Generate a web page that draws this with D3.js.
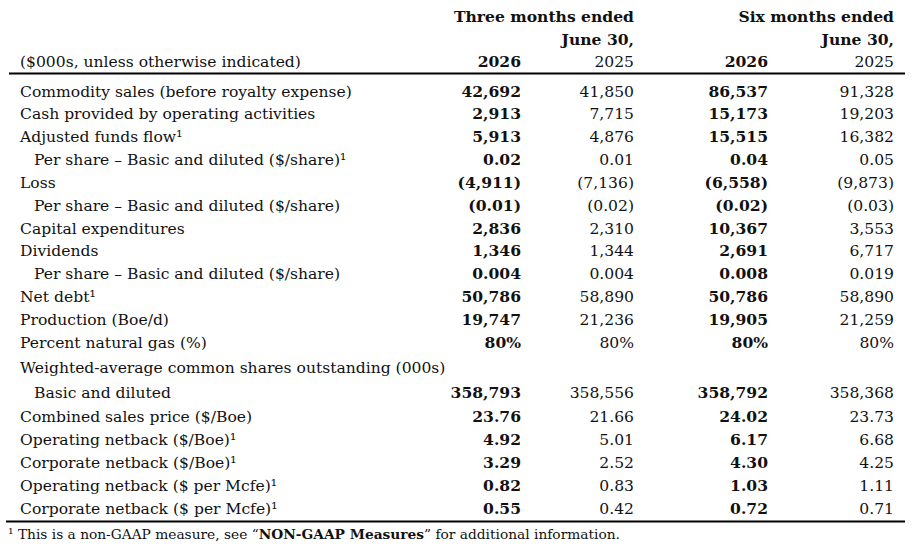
<!DOCTYPE html>
<html>
<head>
<meta charset="utf-8">
<script src="https://cdn.jsdelivr.net/npm/d3@7"></script>
<style>
  html, body { margin: 0; padding: 0; background: #fff; }
  svg { display: block; }
  text { font-family: "DejaVu Serif", serif; fill: #111; }
</style>
</head>
<body>
<svg id="chart" width="912" height="547"></svg>
<script>
// ---------------- DATA ----------------
const unitsLabel = "($000s, unless otherwise indicated)";
const periodHeaders = ["Three months ended", "Six months ended"];
const periodSub = ["June 30,", "June 30,"];
const yearHeaders = ["2026", "2025", "2026", "2025"];

const rowLabels = [
  "Commodity sales (before royalty expense)",
  "Cash provided by operating activities",
  "Adjusted funds flow",
  "Per share \u2013 Basic and diluted ($/share)",
  "Loss",
  "Per share \u2013 Basic and diluted ($/share)",
  "Capital expenditures",
  "Dividends",
  "Per share \u2013 Basic and diluted ($/share)",
  "Net debt",
  "Production (Boe/d)",
  "Percent natural gas (%)",
  "Weighted-average common shares outstanding (000s)",
  "Basic and diluted",
  "Combined sales price ($/Boe)",
  "Operating netback ($/Boe)",
  "Corporate netback ($/Boe)",
  "Operating netback ($ per Mcfe)",
  "Corporate netback ($ per Mcfe)"
];
const rowIndent = [0,0,0,1,0,1,0,0,1,0,0,0,0,1,0,0,0,0,0];
const rowNote   = [0,0,1,1,0,0,0,0,0,1,0,0,0,0,0,1,1,1,1];
const rowFormat = ["int","int","int","d2","int","d2","int","int","d3","int","int","pct",null,"int","d2","d2","d2","d2","d2"];

const threeMonths2026 = [42692, 2913, 5913, 0.02, -4911, -0.01, 2836, 1346, 0.004, 50786, 19747, 80, null, 358793, 23.76, 4.92, 3.29, 0.82, 0.55];
const threeMonths2025 = [41850, 7715, 4876, 0.01, -7136, -0.02, 2310, 1344, 0.004, 58890, 21236, 80, null, 358556, 21.66, 5.01, 2.52, 0.83, 0.42];
const sixMonths2026   = [86537, 15173, 15515, 0.04, -6558, -0.02, 10367, 2691, 0.008, 50786, 19905, 80, null, 358792, 24.02, 6.17, 4.30, 1.03, 0.72];
const sixMonths2025   = [91328, 19203, 16382, 0.05, -9873, -0.03, 3553, 6717, 0.019, 58890, 21259, 80, null, 358368, 23.73, 6.68, 4.25, 1.11, 0.71];

const footnoteParts = [
  {t: "\u00B9 This is a non-GAAP measure, see \u201C", b: false},
  {t: "NON-GAAP Measures", b: true},
  {t: "\u201D for additional information.", b: false}
];

// ---------------- LAYOUT ----------------
const svg = d3.select("#chart");

const columns = [
  {key: "q26", values: threeMonths2026, bold: true},
  {key: "q25", values: threeMonths2025, bold: false},
  {key: "s26", values: sixMonths2026, bold: true},
  {key: "s25", values: sixMonths2025, bold: false}
];
const xCol = d3.scaleOrdinal().domain(columns.map(c => c.key)).range([521, 634, 768, 894]);
const xLabel = 20, indentW = 14;

function measure(str, size, weight) {
  const t = svg.append("text").attr("font-size", size).attr("font-weight", weight || "normal").text(str);
  const w = t.node().getComputedTextLength();
  t.remove();
  return w;
}
const bodySize = 16 * 332 / measure(rowLabels[0], 16);

// row baselines, slight extra spacing around share-count block
const slot = rowLabels.map((_, i) => i + (i >= 12 ? 0.12 : 0) + (i >= 13 ? 0.1 : 0) + (i >= 14 ? 0.04 : 0));
const y = d3.scaleLinear().domain([0, slot[slot.length - 1]]).range([96.5, 513.5]);

const fmtInt = d3.format(",.0f"), fmt2 = d3.format(".2f"), fmt3 = d3.format(".3f");
function fmtVal(v, f) {
  if (v == null) return "";
  let s;
  const a = Math.abs(v);
  if (f === "int") s = fmtInt(a);
  else if (f === "d2") s = fmt2(a);
  else if (f === "d3") s = fmt3(a);
  else if (f === "pct") s = fmtInt(a) + "%";
  return v < 0 ? "(" + s + ")" : s;
}

// headers
const hdr = svg.append("g").attr("font-size", bodySize);
const periodRight = [xCol("q25"), xCol("s25")];
hdr.selectAll("text.ph").data(periodHeaders).join("text")
  .attr("class", "ph").attr("x", (d, i) => periodRight[i]).attr("y", 21.5)
  .attr("text-anchor", "end").attr("font-weight", "bold").text(d => d);
hdr.selectAll("text.ps").data(periodSub).join("text")
  .attr("class", "ps").attr("x", (d, i) => periodRight[i]).attr("y", 44.5)
  .attr("text-anchor", "end").attr("font-weight", "bold").text(d => d);
hdr.selectAll("text.yr").data(yearHeaders).join("text")
  .attr("class", "yr").attr("x", (d, i) => xCol(columns[i].key)).attr("y", 67)
  .attr("text-anchor", "end").attr("font-weight", (d, i) => columns[i].bold ? "bold" : "normal").text(d => d);
hdr.append("text").attr("x", xLabel).attr("y", 67).text(unitsLabel);

// rules
svg.append("line").attr("x1", 9).attr("x2", 905).attr("y1", 73.5).attr("y2", 73.5)
  .attr("stroke", "#000").attr("stroke-width", 2);
svg.append("line").attr("x1", 6).attr("x2", 905).attr("y1", 521.5).attr("y2", 521.5)
  .attr("stroke", "#000").attr("stroke-width", 2);

// rows
const body = svg.append("g").attr("font-size", bodySize);
const rows = body.selectAll("g.row").data(rowLabels).join("g").attr("class", "row")
  .attr("transform", (d, i) => `translate(0,${y(slot[i])})`);
const lbl = rows.append("text").attr("x", (d, i) => xLabel + rowIndent[i] * indentW);
lbl.append("tspan").text(d => d);
lbl.filter((d, i) => rowNote[i]).append("tspan").text("\u00B9");

columns.forEach(c => {
  rows.append("text")
    .attr("x", xCol(c.key))
    .attr("text-anchor", "end")
    .attr("font-weight", c.bold ? "bold" : "normal")
    .text((d, i) => fmtVal(c.values[i], rowFormat[i]));
});

// footnote
const footW = 612;
const tmp = svg.append("text").attr("font-size", 14);
footnoteParts.forEach(p => tmp.append("tspan").attr("font-weight", p.b ? "bold" : "normal").text(p.t));
const fw = tmp.node().getComputedTextLength();
tmp.remove();
const foot = svg.append("text").attr("x", 8).attr("y", 539).attr("font-size", 14 * footW / fw);
foot.selectAll("tspan").data(footnoteParts).join("tspan")
  .attr("font-weight", d => d.b ? "bold" : "normal").text(d => d.t);
</script>
</body>
</html>
